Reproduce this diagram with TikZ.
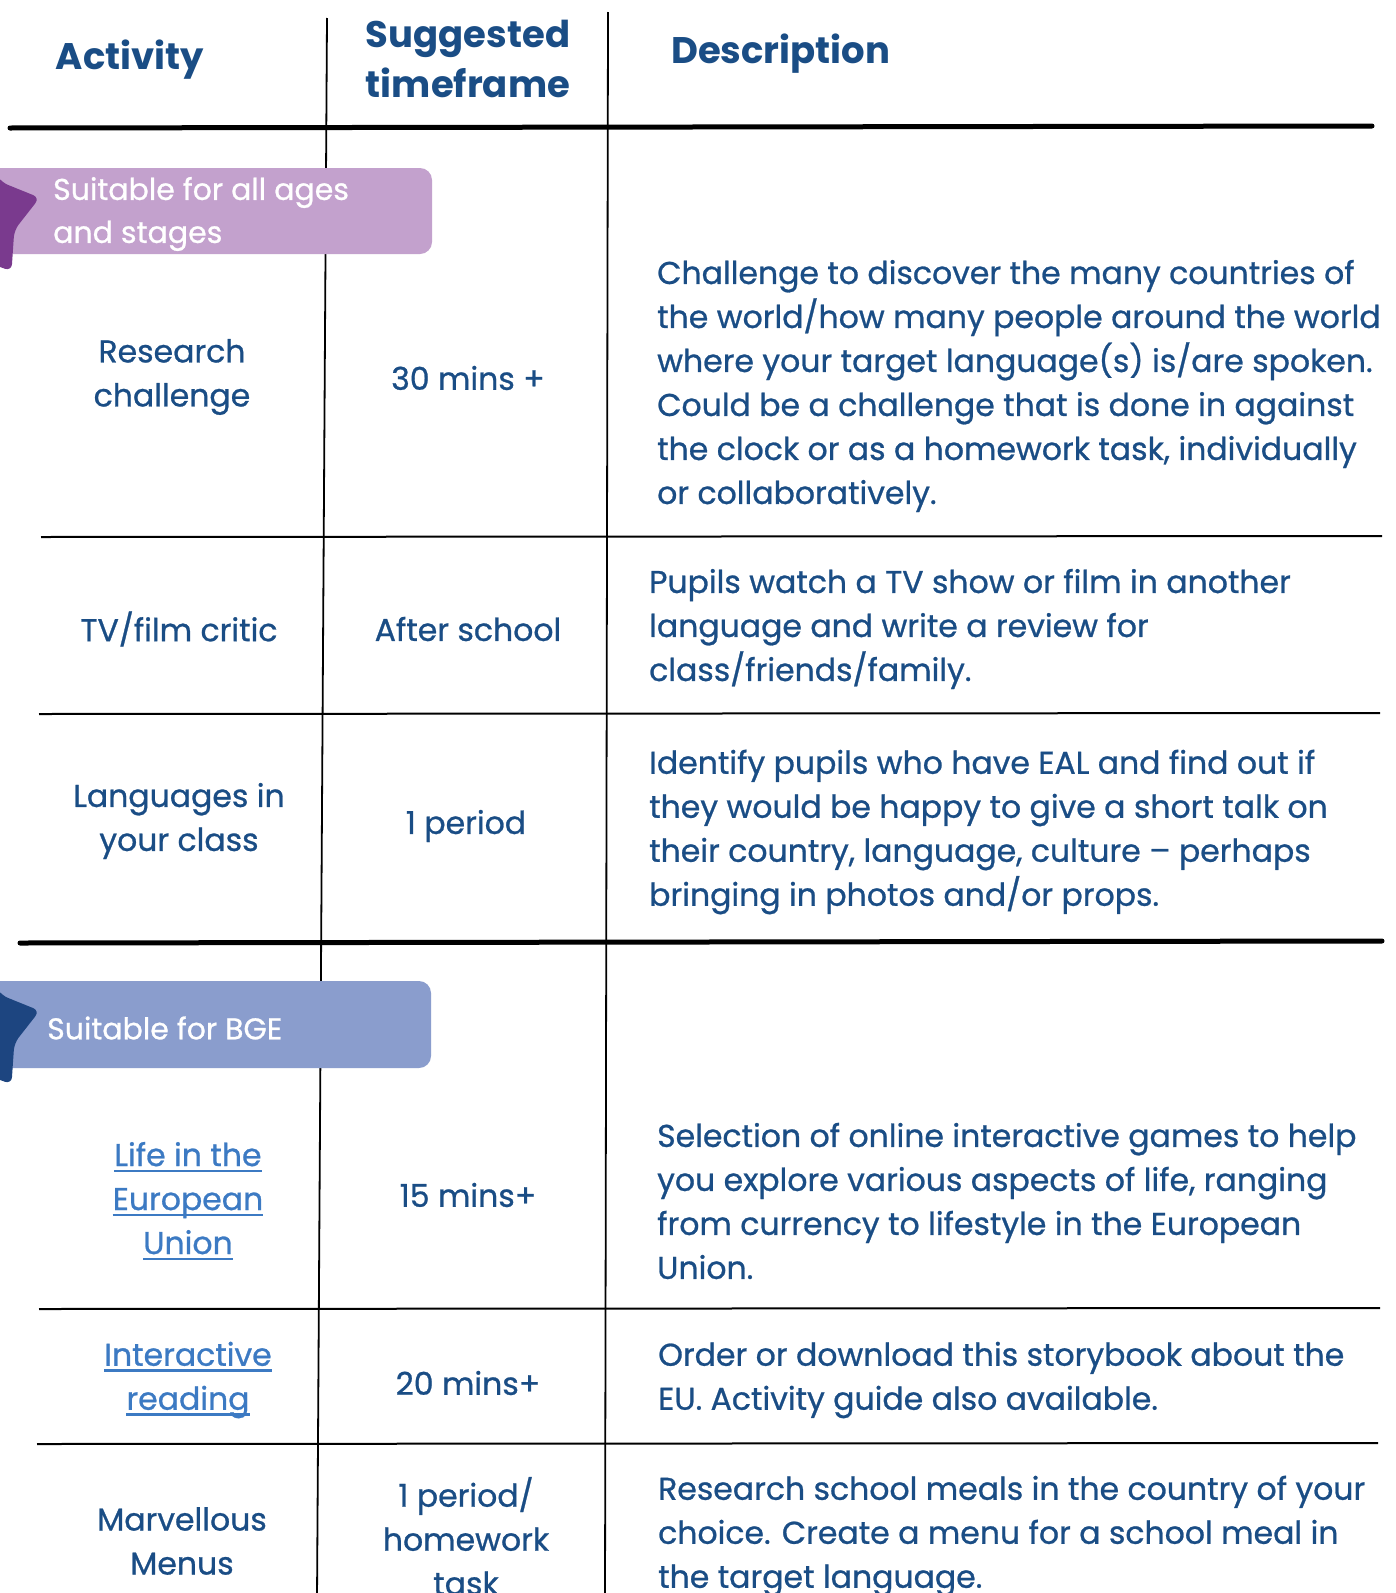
\documentclass[tikz,border=0pt]{standalone}
\usepackage{fontspec}
\setmainfont{Poppins}
\newfontfamily\medfont{Poppins}[FakeBold=0.8]
\definecolor{txt}{HTML}{1A4D85}
\definecolor{lnk}{HTML}{3C7AC3}
\definecolor{pband}{HTML}{C3A1CD}
\definecolor{pstar}{HTML}{7A3A8E}
\definecolor{bband}{HTML}{8A9DCD}
\definecolor{bstar}{HTML}{1D4580}
\newcommand{\myul}[1]{\setbox0\hbox{#1}\rlap{\color{lnk}\rule[-6pt]{\wd0}{2.4pt}}\box0}
\tikzset{
  x=1pt, y=-1pt,
  body/.style={inner sep=0pt, text=txt, font=\medfont\fontsize{31.5}{44}\selectfont},
  cellc/.style={body, align=center, anchor=center},
  celll/.style={body, align=left, anchor=west},
  head/.style={inner sep=0pt, text=txt, font=\fontsize{37}{50}\selectfont\bfseries},
  band/.style={inner sep=0pt, text=white, align=left, anchor=west, font=\medfont\fontsize{30}{43}\selectfont},
  thickrule/.style={line width=5pt, line cap=round},
  thinrule/.style={line width=2pt},
  vrule/.style={line width=1.8pt},
  starpic/.pic={
    \fill[rounded corners=7pt, scale=1.08] (59.9,-16.0) -- (24.5,-30.3) -- (3.2,-61.9) -- (-21.2,-32.7)
      -- (-57.9,-22.2) -- (-37.7,10.1) -- (-39.0,48.2) -- (-2.0,38.9) -- (33.8,52.0)
      -- (36.4,14.0) -- cycle;
  }
}
\begin{document}
\begin{tikzpicture}
\useasboundingbox (0,0) rectangle (1396,1593);
\clip (0,0) rectangle (1396,1593);
\fill[white] (0,0) rectangle (1396,1593);

% grid lines
\coordinate (v1t) at (327,18);  \coordinate (v1b) at (317,1600);
\coordinate (v2t) at (608,12);  \coordinate (v2b) at (605,1600);
\draw[vrule] (v1t) -- (v1b);
\draw[vrule] (v2t) -- (v2b);
\coordinate (h0a) at (10,128);  \coordinate (h0b) at (1372,126);
\coordinate (h1a) at (41,537);  \coordinate (h1b) at (1382,536);
\coordinate (h2a) at (39,714);  \coordinate (h2b) at (1380,713);
\coordinate (h3a) at (20,943);  \coordinate (h3b) at (1382,941);
\coordinate (h4a) at (39,1309); \coordinate (h4b) at (1380,1308);
\coordinate (h5a) at (37,1444); \coordinate (h5b) at (1378,1443);
\draw[thickrule] (h0a) -- (h0b);
\draw[thinrule] (h1a) -- (h1b);
\draw[thinrule] (h2a) -- (h2b);
\draw[thickrule] (h3a) -- (h3b);
\draw[thinrule] (h4a) -- (h4b);
\draw[thinrule] (h5a) -- (h5b);

% headers
\node[head] (hact) at (130,60) {Activity};
\node[head, align=center] (htime) at (468,59) {Suggested\\timeframe};
\node[head, anchor=west] (hdesc) at (671,54) {Description};

% banner 1
\fill[pband, rounded corners=12pt] (-20,168) rectangle (432,254);
\pic[pstar] at (-25,215) {starpic};
\node[band] (b1) at (53,214) {Suitable for all ages\\and stages};

% banner 2
\fill[bband, rounded corners=12pt] (-20,981) rectangle (431,1068);
\pic[bstar] at (-25,1028) {starpic};
\node[band] (b2) at (47,1028) {Suitable for BGE};

% rows
\node[cellc] (a1) at (172,377) {Research\\challenge};
\node[cellc] (t1) at (468,378) {30 mins +};
\node[celll] (d1) at (657,386) {Challenge to discover the many countries of\\the world/how many people around the world\\where your target language(s) is/are spoken.\\Could be a challenge that is done in against\\the clock or as a homework task, individually\\or collaboratively.};

\node[cellc] (a2) at (179,629) {TV/film critic};
\node[cellc] (t2) at (468,629) {After school};
\node[celll] (d2) at (649,629) {Pupils watch a TV show or film in another\\language and write a review for\\class/friends/family.};

\node[cellc] (a3) at (179,821) {Languages in\\your class};
\node[cellc] (t3) at (466,826) {1 period};
\node[celll] (d3) at (649,832) {Identify pupils who have EAL and find out if\\they would be happy to give a short talk on\\their country, language, culture – perhaps\\bringing in photos and/or props.};

\node[cellc, text=lnk] (a4) at (188,1201) {\myul{Life in the}\\\myul{European}\\\myul{Union}};
\node[cellc] (t4) at (468,1195) {15 mins+};
\node[celll] (d4) at (657,1201) {Selection of online interactive games to help\\you explore various aspects of life, ranging\\from currency to lifestyle in the European\\Union.};

\node[cellc, text=lnk] (a5) at (188,1380) {\myul{Interactive}\\\myul{reading}};
\node[cellc] (t5) at (468,1383) {20 mins+};
\node[celll] (d5) at (658,1380) {Order or download this storybook about the\\EU. Activity guide also available.};

\node[cellc] (a6) at (182,1541) {Marvellous\\Menus};
\node[cellc] (t6) at (466,1536) {1 period/\\homework\\task};
\node[celll] (d6) at (658,1536) {Research school meals in the country of your\\choice. Create a menu for a school meal in\\the target language.};
\end{tikzpicture}
\end{document}
